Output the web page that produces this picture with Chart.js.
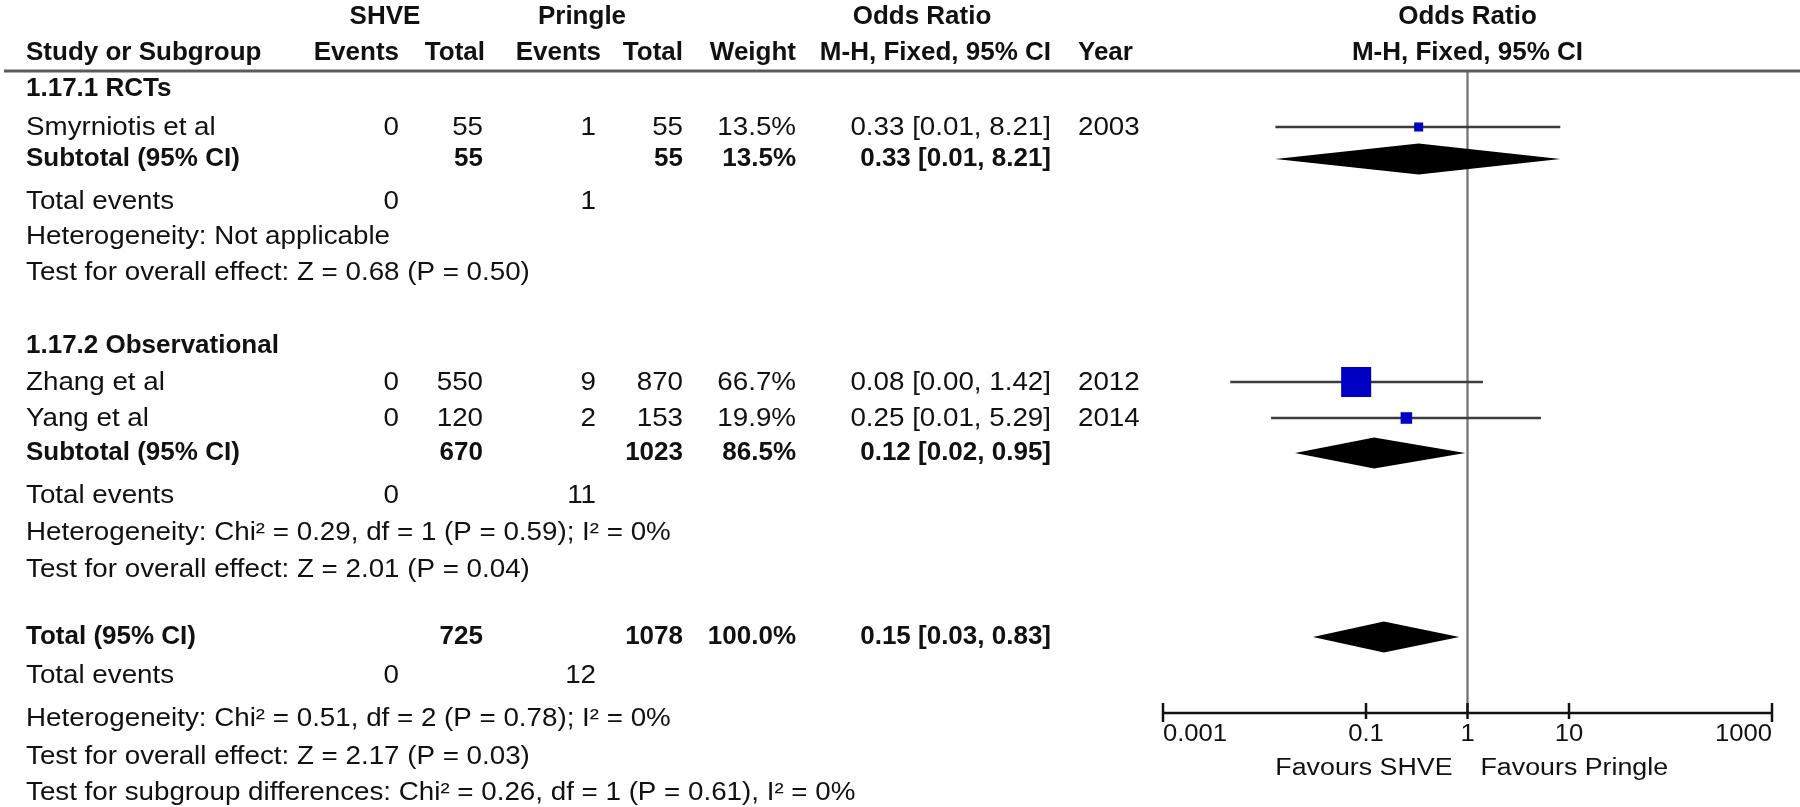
<!DOCTYPE html>
<html><head><meta charset="utf-8">
<script src="https://cdn.jsdelivr.net/npm/chart.js@4.4.1/dist/chart.umd.min.js"></script>
<style>html,body{margin:0;padding:0;background:#fff;}#wrap{width:1800px;height:807px;position:relative;overflow:hidden}</style>
</head><body><div id="wrap"><canvas id="c" width="1800" height="807"></canvas></div>
<script>
// ---------- DATA ----------
const studyNames = ['Smyrniotis et al', 'Zhang et al', 'Yang et al'];
const shveEvents = [0, 0, 0];
const shveTotals = [55, 550, 120];
const pringleEvents = [1, 9, 2];
const pringleTotals = [55, 870, 153];
const studyWeights = [13.5, 66.7, 19.9];
const studyOR = [0.33, 0.08, 0.25];
const studyLow = [0.0128, 0.0046, 0.0116];
const studyHigh = [8.21, 1.42, 5.29];
const studyYears = [2003, 2012, 2014];

const subgroupNames = ['1.17.1 RCTs', '1.17.2 Observational'];
const subShveTotals = [55, 670];
const subPringleTotals = [55, 1023];
const subWeights = [13.5, 86.5];
const subOR = [0.33, 0.12];
const subLow = [0.0128, 0.02];
const subHigh = [8.21, 0.95];
const subShveEvents = [0, 0];
const subPringleEvents = [1, 11];
const subHeterogeneity = ['Heterogeneity: Not applicable', 'Heterogeneity: Chi\u00b2 = 0.29, df = 1 (P = 0.59); I\u00b2 = 0%'];
const subOverall = ['Test for overall effect: Z = 0.68 (P = 0.50)', 'Test for overall effect: Z = 2.01 (P = 0.04)'];

const totalShveTotal = [725];
const totalPringleTotal = [1078];
const totalWeight = [100.0];
const totalOR = [0.15];
const totalLow = [0.03];
const totalHigh = [0.83];
const totalShveEvents = [0];
const totalPringleEvents = [12];
const totalHeterogeneity = 'Heterogeneity: Chi\u00b2 = 0.51, df = 2 (P = 0.78); I\u00b2 = 0%';
const totalOverall = 'Test for overall effect: Z = 2.17 (P = 0.03)';
const subgroupDifferences = 'Test for subgroup differences: Chi\u00b2 = 0.26, df = 1 (P = 0.61), I\u00b2 = 0%';

const tickValues = [0.001, 0.1, 1, 10, 1000];
const tickLabels = ['0.001', '0.1', '1', '10', '1000'];
const favourLabels = ['Favours SHVE', 'Favours Pringle'];

// ---------- LAYOUT (rows in pixel units of the y scale) ----------
const ROW = {h1:17, h2:53, rule:71, g0:89, sub0:159, te0:202, het0:237, ov0:273,
  g1:346, sub1:453, te1:496, het1:533, ov1:570,
  tot:637, te2:676, het2:719, ov2:757, diff:793, axis:713};
const studyRow = [127, 382, 418];
const COL = {name:26, ev1:399, tot1:483, ev2:596, tot2:683, wt:796, or:1051, year:1078};
const FONT = '"Liberation Sans", Arial, Helvetica, sans-serif';
const STYLE = {
  reg: {size:25, sx:1.11, bold:false},
  bold: {size:26, sx:1.0, bold:true},
  tick: {size:23.5, sx:1.09, bold:false},
  fav: {size:23.5, sx:1.14, bold:false}
};
const TXT = '#111';

function fmt2(v){ return v.toFixed(2); }
function ciText(o,l,h){ return fmt2(o) + ' [' + fmt2(l) + ', ' + fmt2(h) + ']'; }

function txt(ctx, s, x, y, align, st){
  st = st || STYLE.reg;
  ctx.save();
  ctx.font = (st.bold ? 'bold ' : '') + st.size + 'px ' + FONT;
  ctx.fillStyle = TXT;
  ctx.textBaseline = 'middle';
  ctx.textAlign = align || 'left';
  ctx.translate(x, y);
  ctx.scale(st.sx, 1);
  ctx.fillText(String(s), 0, 0);
  ctx.restore();
}

const forestPlugin = {
  id: 'forest',
  afterDatasetsDraw(chart){
    const ctx = chart.ctx, xs = chart.scales.x, ys = chart.scales.y;
    const diamonds = [];
    subOR.forEach((o,i)=>diamonds.push([o, subLow[i], subHigh[i], [ROW.sub0, ROW.sub1][i]]));
    diamonds.push([totalOR[0], totalLow[0], totalHigh[0], ROW.tot]);
    ctx.save();
    ctx.fillStyle = '#000';
    diamonds.forEach(d=>{
      const xc = xs.getPixelForValue(d[0]), xl = xs.getPixelForValue(d[1]), xh = xs.getPixelForValue(d[2]);
      const y = ys.getPixelForValue(d[3]);
      const hh = 15.5;
      ctx.beginPath();
      ctx.moveTo(xl, y); ctx.lineTo(xc, y - hh); ctx.lineTo(xh, y); ctx.lineTo(xc, y + hh);
      ctx.closePath(); ctx.fill();
    });
    ctx.restore();
  },
  afterDraw(chart){
    const ctx = chart.ctx, xs = chart.scales.x, ys = chart.scales.y;
    const Y = v => ys.getPixelForValue(v);
    const plotCenter = (chart.chartArea.left + chart.chartArea.right) / 2;
    const B = STYLE.bold;
    ctx.save();
    ctx.strokeStyle = '#5a5a5a'; ctx.lineWidth = 3;
    ctx.beginPath(); ctx.moveTo(4, Y(ROW.rule)); ctx.lineTo(1800, Y(ROW.rule)); ctx.stroke();
    ctx.restore();
    // headers
    txt(ctx, 'SHVE', 385, Y(ROW.h1), 'center', B);
    txt(ctx, 'Pringle', 582, Y(ROW.h1), 'center', B);
    txt(ctx, 'Odds Ratio', 922, Y(ROW.h1), 'center', B);
    txt(ctx, 'Odds Ratio', plotCenter, Y(ROW.h1), 'center', B);
    txt(ctx, 'Study or Subgroup', COL.name, Y(ROW.h2), 'left', B);
    txt(ctx, 'Events', COL.ev1, Y(ROW.h2), 'right', B);
    txt(ctx, 'Total', COL.tot1 + 2, Y(ROW.h2), 'right', B);
    txt(ctx, 'Events', 601, Y(ROW.h2), 'right', B);
    txt(ctx, 'Total', COL.tot2, Y(ROW.h2), 'right', B);
    txt(ctx, 'Weight', COL.wt, Y(ROW.h2), 'right', B);
    txt(ctx, 'M-H, Fixed, 95% CI', COL.or, Y(ROW.h2), 'right', B);
    txt(ctx, 'Year', COL.year, Y(ROW.h2), 'left', B);
    txt(ctx, 'M-H, Fixed, 95% CI', plotCenter, Y(ROW.h2), 'center', B);
    // studies
    studyNames.forEach((n,i)=>{
      const y = Y(studyRow[i]) + 1;
      txt(ctx, n, COL.name, y, 'left');
      txt(ctx, shveEvents[i], COL.ev1, y, 'right');
      txt(ctx, shveTotals[i], COL.tot1, y, 'right');
      txt(ctx, pringleEvents[i], COL.ev2, y, 'right');
      txt(ctx, pringleTotals[i], COL.tot2, y, 'right');
      txt(ctx, studyWeights[i].toFixed(1) + '%', COL.wt, y, 'right');
      txt(ctx, ciText(studyOR[i], studyLow[i], studyHigh[i]), COL.or, y, 'right');
      txt(ctx, studyYears[i], COL.year, y, 'left');
    });
    // subgroups
    const gRows = [[ROW.g0, ROW.sub0, ROW.te0, ROW.het0, ROW.ov0],[ROW.g1, ROW.sub1, ROW.te1, ROW.het1, ROW.ov1]];
    subgroupNames.forEach((n,i)=>{
      const r = gRows[i];
      txt(ctx, n, COL.name, Y(r[0]), 'left', B);
      txt(ctx, 'Subtotal (95% CI)', COL.name, Y(r[1]), 'left', B);
      txt(ctx, subShveTotals[i], COL.tot1, Y(r[1]), 'right', B);
      txt(ctx, subPringleTotals[i], COL.tot2, Y(r[1]), 'right', B);
      txt(ctx, subWeights[i].toFixed(1) + '%', COL.wt, Y(r[1]), 'right', B);
      txt(ctx, ciText(subOR[i], subLow[i], subHigh[i]), COL.or, Y(r[1]), 'right', B);
      txt(ctx, 'Total events', COL.name, Y(r[2]), 'left');
      txt(ctx, subShveEvents[i], COL.ev1, Y(r[2]), 'right');
      txt(ctx, subPringleEvents[i], COL.ev2, Y(r[2]), 'right');
      txt(ctx, subHeterogeneity[i], COL.name, Y(r[3]), 'left');
      txt(ctx, subOverall[i], COL.name, Y(r[4]), 'left');
    });
    // total
    txt(ctx, 'Total (95% CI)', COL.name, Y(ROW.tot), 'left', B);
    txt(ctx, totalShveTotal[0], COL.tot1, Y(ROW.tot), 'right', B);
    txt(ctx, totalPringleTotal[0], COL.tot2, Y(ROW.tot), 'right', B);
    txt(ctx, totalWeight[0].toFixed(1) + '%', COL.wt, Y(ROW.tot), 'right', B);
    txt(ctx, ciText(totalOR[0], totalLow[0], totalHigh[0]), COL.or, Y(ROW.tot), 'right', B);
    txt(ctx, 'Total events', COL.name, Y(ROW.te2), 'left');
    txt(ctx, totalShveEvents[0], COL.ev1, Y(ROW.te2), 'right');
    txt(ctx, totalPringleEvents[0], COL.ev2, Y(ROW.te2), 'right');
    txt(ctx, totalHeterogeneity, COL.name, Y(ROW.het2), 'left');
    txt(ctx, totalOverall, COL.name, Y(ROW.ov2), 'left');
    txt(ctx, subgroupDifferences, COL.name, Y(ROW.diff), 'left');
    // axis
    const ay = Y(ROW.axis);
    const x0 = xs.getPixelForValue(tickValues[0]), x1 = xs.getPixelForValue(tickValues[tickValues.length-1]);
    ctx.save();
    ctx.strokeStyle = '#111'; ctx.lineWidth = 2.5;
    ctx.beginPath(); ctx.moveTo(x0, ay); ctx.lineTo(x1, ay); ctx.stroke();
    tickValues.forEach((v,i)=>{
      const x = xs.getPixelForValue(v);
      const end = (i===0 || i===tickValues.length-1);
      ctx.beginPath(); ctx.moveTo(x, ay - 10); ctx.lineTo(x, ay + (end ? 9 : 6)); ctx.stroke();
      const al = i===0 ? 'left' : (i===tickValues.length-1 ? 'right' : 'center');
      txt(ctx, tickLabels[i], x, ay + 22, al, STYLE.tick);
    });
    ctx.restore();
    const xOne = xs.getPixelForValue(1);
    txt(ctx, favourLabels[0], xOne - 15, ay + 56, 'right', STYLE.fav);
    txt(ctx, favourLabels[1], xOne + 13, ay + 56, 'left', STYLE.fav);
  }
};

const squareSide = w => 3.7 + 0.395 * w;
const datasets = [];
datasets.push({
  label: 'studies', order: 0,
  data: studyOR.map((v,i)=>({x:v, y:studyRow[i]})),
  pointStyle: 'rect',
  pointRadius: studyWeights.map(w => squareSide(w) / Math.SQRT2),
  backgroundColor: '#0000c4', borderColor: '#0000c4', borderWidth: 0, showLine: false
});
studyNames.forEach((n,i)=>{
  datasets.push({
    label: 'ci ' + n, order: 1, showLine: true,
    data: [{x:studyLow[i], y:studyRow[i]}, {x:studyHigh[i], y:studyRow[i]}],
    borderColor: '#3c3c3c', borderWidth: 2.4, pointRadius: 0
  });
});
datasets.push({
  label: 'null', order: 3, showLine: true,
  data: [{x:1, y:ROW.rule}, {x:1, y:ROW.axis}],
  borderColor: '#707070', borderWidth: 2.2, pointRadius: 0
});

new Chart(document.getElementById('c'), {
  type: 'scatter',
  data: { datasets },
  options: {
    responsive: false, animation: false, devicePixelRatio: 1,
    layout: { padding: { left: 1163, right: 28, top: ROW.rule, bottom: 807 - ROW.axis } },
    plugins: { legend: {display:false}, tooltip: {enabled:false}, title:{display:false} },
    scales: {
      x: { type: 'logarithmic', min: 0.001, max: 1000, display: false },
      y: { type: 'linear', min: ROW.rule, max: ROW.axis, reverse: true, display: false }
    }
  },
  plugins: [forestPlugin]
});
</script></body></html>
